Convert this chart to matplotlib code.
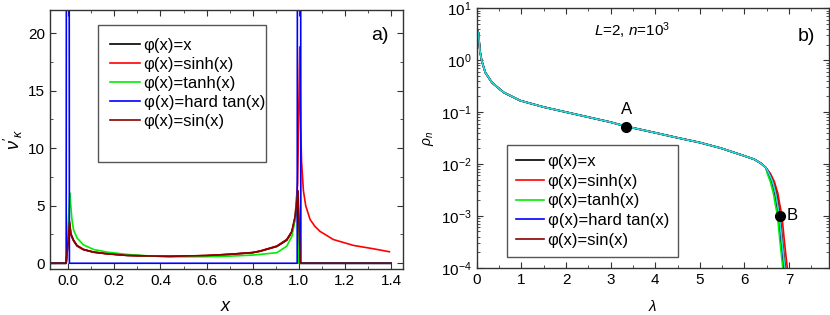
import matplotlib
matplotlib.use("Agg")
import matplotlib.pyplot as plt
from matplotlib.patches import Rectangle
from matplotlib.ticker import MultipleLocator, LogLocator, NullFormatter, LogFormatterMathtext

plt.rcParams["font.family"] = ["Liberation Sans", "DejaVu Sans"]
plt.rcParams["mathtext.fontset"] = "custom"
plt.rcParams["mathtext.rm"] = "Liberation Sans"
plt.rcParams["mathtext.it"] = "Liberation Sans:italic"

# ---- panel a): spectral densities vs x ----
LABELS = ["φ(x)=x", "φ(x)=sinh(x)", "φ(x)=tanh(x)", "φ(x)=hard tan(x)", "φ(x)=sin(x)"]
COLORS = ["#000000", "#ff0000", "#00ee00", "#0000ff", "#8b0000"]

x_lin = [-0.08, -0.009, 0.006, 0.011, 0.023, 0.038, 0.066, 0.11, 0.168, 0.254, 0.355, 0.44,
         0.6, 0.7, 0.8, 0.832, 0.905, 0.948, 0.97, 0.984, 0.991, 0.997, 1.006, 1.4]
nu_lin = [0, 0, 3.4, 2.5, 1.95, 1.5, 1.18, 0.96, 0.82, 0.68, 0.62, 0.6,
          0.66, 0.77, 0.92, 1.04, 1.46, 2.0, 2.7, 3.9, 4.8, 5.2, 0, 0]

x_sinh = [-0.08, -0.009, 0.006, 0.011, 0.023, 0.038, 0.066, 0.11, 0.168, 0.254, 0.355, 0.44,
          0.6, 0.7, 0.8, 0.832, 0.905, 0.948, 0.97, 0.984, 0.995, 1.004, 1.008, 1.012, 1.02,
          1.03, 1.049, 1.07, 1.092, 1.15, 1.237, 1.323, 1.393]
nu_sinh = [0, 0, 3.5, 2.55, 2.0, 1.52, 1.2, 0.97, 0.83, 0.69, 0.63, 0.6,
           0.67, 0.78, 0.93, 1.06, 1.49, 2.06, 2.77, 4.06, 7.0, 18.8, 12.0, 8.8, 6.3,
           5.0, 3.8, 3.2, 2.77, 2.06, 1.55, 1.26, 1.0]

x_tanh = [-0.08, -0.009, 0.007, 0.009, 0.016, 0.023, 0.038, 0.066, 0.11, 0.168, 0.254, 0.355,
          0.44, 0.5, 0.6, 0.7, 0.8, 0.832, 0.905, 0.948, 0.97, 0.984, 0.993, 0.998, 1.4]
nu_tanh = [0, 0, 6.1, 5.5, 3.8, 2.9, 2.2, 1.6, 1.2, 0.97, 0.77, 0.63,
           0.57, 0.56, 0.57, 0.62, 0.71, 0.77, 0.92, 1.49, 2.35, 3.78, 6.0, 0, 0]

x_hard = [-0.08, -0.009, -0.008, 0.004, 0.005, 0.993, 0.994, 1.008, 1.009, 1.4]
nu_hard = [0, 0, 30, 30, 0, 0, 30, 30, 0, 0]

x_sin = [-0.08, -0.009, 0.006, 0.011, 0.023, 0.038, 0.066, 0.11, 0.168, 0.254, 0.355, 0.44,
         0.6, 0.7, 0.8, 0.832, 0.905, 0.948, 0.97, 0.984, 0.991, 0.997, 1.006, 1.4]
nu_sin = [0, 0, 3.6, 2.6, 2.0, 1.55, 1.2, 0.97, 0.83, 0.69, 0.63, 0.6,
          0.67, 0.78, 0.93, 1.06, 1.49, 2.06, 2.77, 4.06, 5.3, 6.3, 0, 0]

# ---- panel b): rho_n vs lambda ----
lam_body = [0.015, 0.036, 0.07, 0.11, 0.19, 0.34, 0.6, 0.97, 1.5, 2.0, 2.5, 3.0, 3.35, 4.0,
            4.5, 5.0, 5.48, 6.0, 6.22, 6.37, 6.48]
rho_body = [3.7, 3.4, 1.5, 0.97, 0.58, 0.37, 0.24, 0.167, 0.125, 0.1, 0.08, 0.064, 0.053, 0.040,
            0.032, 0.0259, 0.0201, 0.0143, 0.0123, 0.0103, 0.0085]

rho_tail = [0.0066, 0.0046, 0.0027, 0.0017, 0.00102, 0.0003, 0.0001]
lam_tail_lin = [6.53, 6.61, 6.68, 6.72, 6.76, 6.82, 6.88]
lam_tail_sinh = [6.58, 6.67, 6.75, 6.79, 6.84, 6.9, 6.96]
lam_tail_tanh = [6.51, 6.58, 6.65, 6.69, 6.74, 6.8, 6.86]
lam_tail_hard = [6.55, 6.63, 6.7, 6.74, 6.78, 6.84, 6.9]
lam_tail_sin = [6.56, 6.64, 6.72, 6.76, 6.8, 6.86, 6.92]
lam_tail_cyan = [6.55, 6.63, 6.7, 6.74, 6.78, 6.845, 6.905]

point_lam = [3.35, 6.8]
point_rho = [0.052, 0.001]
point_names = ["A", "B"]


def style_axes(ax):
    ax.tick_params(direction="in", which="both", top=True, right=True,
                   labelsize=11, color="#333333")
    ax.tick_params(which="major", length=4)
    ax.tick_params(which="minor", length=2.5)
    for spine in ax.spines.values():
        spine.set_color("#333333")
        spine.set_linewidth(1.0)


fig = plt.figure(figsize=(8.3, 3.15), dpi=100)
ax1 = fig.add_axes([0.060, 0.146, 0.425, 0.822])
ax2 = fig.add_axes([0.5745, 0.150, 0.4245, 0.8235])

series_a = [(x_lin, nu_lin), (x_sinh, nu_sinh), (x_tanh, nu_tanh), (x_hard, nu_hard), (x_sin, nu_sin)]
for i, (xs, ys) in enumerate(series_a):
    ax1.plot(xs, ys, color=COLORS[i], lw=1.2, label=LABELS[i])
ax1.set_xlim(-0.08, 1.45)
ax1.set_ylim(-0.5, 22)
ax1.xaxis.set_major_locator(MultipleLocator(0.2))
ax1.xaxis.set_minor_locator(MultipleLocator(0.1))
ax1.yaxis.set_major_locator(MultipleLocator(5))
ax1.yaxis.set_minor_locator(MultipleLocator(2.5))
ax1.xaxis.set_major_formatter(plt.FuncFormatter(lambda v, p: f"{v:.1f}"))
style_axes(ax1)
ax1.set_xlabel(r"$\it{x}$", fontsize=13, labelpad=7)
ax1.set_ylabel(r"$\nu'_\kappa$", fontsize=13, labelpad=2)
ax1.text(0.96, 0.90, "a)", transform=ax1.transAxes, fontsize=14, ha="right", va="center")
ax1.add_patch(Rectangle((0.136, 0.413), 0.476, 0.529, transform=ax1.transAxes, fill=True,
                        facecolor="white", edgecolor="#555555", lw=1.0, zorder=4))
leg1 = ax1.legend(loc="upper left", bbox_to_anchor=(0.136, 0.942), borderaxespad=0, fontsize=12,
                  frameon=False, handlelength=1.8, handletextpad=0.2, borderpad=0.75,
                  labelspacing=0.24)
leg1.set_zorder(5)

tails = [lam_tail_lin, lam_tail_sinh, lam_tail_tanh, lam_tail_hard, lam_tail_sin]
for i, lt in enumerate(tails):
    ax2.plot(lam_body + lt, rho_body + rho_tail, color=COLORS[i], lw=1.2, label=LABELS[i])
ax2.plot(lam_body + lam_tail_cyan, rho_body + rho_tail, color="#22e0d8", lw=1.2)
ax2.plot(point_lam, point_rho, "o", color="black", ms=7, zorder=5)
ax2.annotate(point_names[0], (point_lam[0], point_rho[0]), xytext=(0, 7), textcoords="offset points",
             ha="center", va="bottom", fontsize=12)
ax2.annotate(point_names[1], (point_lam[1], point_rho[1]), xytext=(5, 0), textcoords="offset points",
             ha="left", va="center", fontsize=12)
ax2.set_yscale("log")
ax2.set_xlim(0, 7.9)
ax2.set_ylim(1e-4, 10)
ax2.xaxis.set_major_locator(MultipleLocator(1))
ax2.xaxis.set_minor_locator(MultipleLocator(0.5))
ax2.yaxis.set_major_locator(LogLocator(base=10, numticks=10))
ax2.yaxis.set_minor_locator(LogLocator(base=10, subs=range(2, 10), numticks=10))
ax2.yaxis.set_minor_formatter(NullFormatter())
ax2.yaxis.set_major_formatter(LogFormatterMathtext())
style_axes(ax2)
ax2.set_xlabel(r"$\lambda$", fontsize=11, labelpad=9)
ax2.set_ylabel(r"$\rho_n$", fontsize=10, labelpad=4)
ax2.text(0.44, 0.912, r"$\it{L}$=2, $\it{n}$=10$^3$", transform=ax2.transAxes, fontsize=11,
         ha="center", va="center")
ax2.text(0.96, 0.89, "b)", transform=ax2.transAxes, fontsize=14, ha="right", va="center")
leg2 = ax2.legend(loc="lower left", bbox_to_anchor=(0.085, 0.042), borderaxespad=0, fontsize=12,
                  frameon=True, fancybox=False, edgecolor="#555555", framealpha=1,
                  handlelength=1.7, handletextpad=0.2, borderpad=0.55, labelspacing=0.28)
leg2.get_frame().set_linewidth(1.0)

fig.savefig("out.png", dpi=100)
